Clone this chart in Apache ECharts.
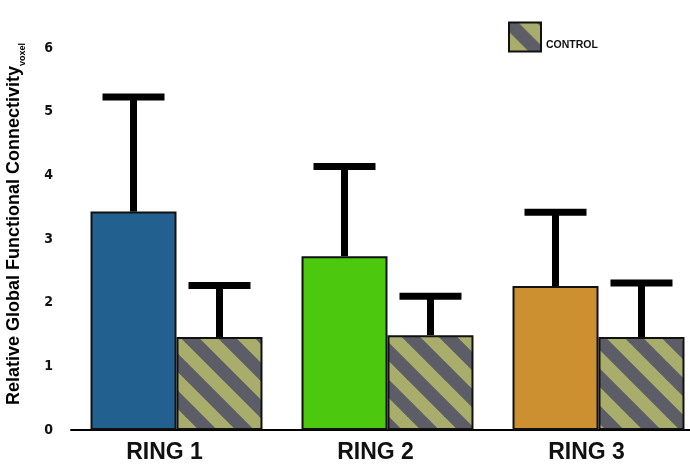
<!DOCTYPE html>
<html>
<head>
<meta charset="utf-8">
<script src="https://cdn.jsdelivr.net/npm/echarts@6/dist/echarts.min.js"></script>
<style>
  html, body { margin: 0; padding: 0; background: #fff; }
  #chart { width: 690px; height: 466px; }
</style>
</head>
<body>
<div id="chart"></div>
<script>
// values
const categories = ["RING 1", "RING 2", "RING 3"];
const ringMeans = [3.43, 2.73, 2.26];
const ringErrors = [1.80, 1.41, 1.16];
const ringColors = ["#22608f", "#4cc80e", "#cd9030"];
const controlMeans = [1.46, 1.49, 1.46];
const controlErrors = [0.81, 0.61, 0.85];
const yTicks = [0, 1, 2, 3, 4, 5, 6];

// diagonal hatch for the control bars
function makeStripes() {
  const P = 37;
  const c = document.createElement("canvas");
  c.width = P;
  c.height = P;
  const ctx = c.getContext("2d");
  ctx.fillStyle = "#a9ad6c";
  ctx.fillRect(0, 0, P, P);
  ctx.strokeStyle = "#5c5d66";
  ctx.lineWidth = P / Math.SQRT2 / 2;
  for (let k = -2; k <= 2; k++) {
    ctx.beginPath();
    ctx.moveTo(k * P - P, -P);
    ctx.lineTo(k * P + 2 * P, 2 * P);
    ctx.stroke();
  }
  return c;
}
const stripes = { image: makeStripes(), repeat: "repeat" };

const GROUP = 0.815; // share of a category used by the two bars

const errData = [];
ringMeans.forEach((m, i) => errData.push([i, m, ringErrors[i], 0]));
controlMeans.forEach((m, i) => errData.push([i, m, controlErrors[i], 1]));

const chart = echarts.init(document.getElementById("chart"));
chart.setOption({
  animation: false,
  grid: { left: 71, top: 48, width: 633, height: 382, outerBoundsMode: "none" },
  legend: {
    data: ["CONTROL"],
    left: 503,
    top: 16,
    itemWidth: 32,
    itemHeight: 29,
    itemGap: 6,
    icon: "rect",
    formatter: "\n{name}",
    textStyle: { fontFamily: "Liberation Sans", fontSize: 10.5, fontWeight: "bold", color: "#111", lineHeight: 16 }
  },
  xAxis: {
    type: "category",
    data: categories,
    axisLine: { lineStyle: { color: "#000", width: 2 } },
    axisTick: { show: false },
    axisLabel: { fontFamily: "Liberation Sans", fontSize: 23, fontWeight: "bold", color: "#111", margin: 11, padding: [0, 24, 0, 0] }
  },
  yAxis: {
    type: "value",
    min: yTicks[0],
    max: yTicks[yTicks.length - 1],
    interval: 1,
    axisLine: { show: false },
    axisTick: { show: false },
    splitLine: { show: false },
    axisLabel: { fontFamily: "DejaVu Sans Condensed", fontWeight: "bold", fontSize: 14, color: "#111", margin: 18 }
  },
  graphic: [{
    type: "text",
    x: 14,
    y: 224,
    rotation: Math.PI / 2,
    style: {
      text: "{a|Relative Global Functional Connectivity}{b|voxel}",
      align: "center",
      verticalAlign: "middle",
      fill: "#000",
      rich: {
        a: { fontFamily: "Liberation Sans", fontWeight: "bold", fontSize: 18, lineHeight: 18, verticalAlign: "top" },
        b: { fontFamily: "Liberation Sans", fontWeight: "bold", fontSize: 9, lineHeight: 9, padding: [13, 0, 0, 0], verticalAlign: "top" }
      }
    }
  }],
  series: [
    {
      name: "RING",
      type: "bar",
      barGap: "0%",
      barCategoryGap: ((1 - GROUP) * 100) + "%",
      data: ringMeans.map((v, i) => ({
        value: v,
        itemStyle: { color: ringColors[i] }
      })),
      itemStyle: { borderColor: "#111", borderWidth: 2 }
    },
    {
      name: "CONTROL",
      type: "bar",
      data: controlMeans,
      itemStyle: { color: stripes, borderColor: "#111", borderWidth: 2 }
    },
    {
      name: "err",
      type: "custom",
      z: 3,
      data: errData,
      encode: { x: 0, y: 1 },
      renderItem: function (params, api) {
        const cat = api.value(0);
        const mean = api.value(1);
        const top = mean + api.value(2);
        const catW = api.size([1, 0])[0];
        const barW = catW * GROUP / 2;
        const x = api.coord([cat, mean])[0] + (api.value(3) === 0 ? -1 : 1) * barW / 2;
        const y0 = api.coord([cat, mean])[1];
        const y1 = api.coord([cat, top])[1];
        return {
          type: "group",
          children: [
            { type: "rect", shape: { x: x - 3.5, y: y1, width: 7, height: y0 - y1 }, style: { fill: "#000" } },
            { type: "rect", shape: { x: x - 31, y: y1 - 3.5, width: 62, height: 7 }, style: { fill: "#000" } }
          ]
        };
      }
    }
  ]
});
</script>
</body>
</html>
